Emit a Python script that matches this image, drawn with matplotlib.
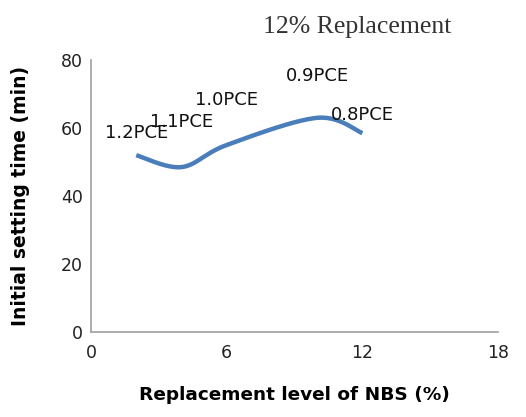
import numpy as np
import matplotlib
matplotlib.use("Agg")
import matplotlib.pyplot as plt

# values
nbs_level = [2, 4, 6, 10, 12]
setting_time = [52, 48.5, 55, 63, 58.5]
point_labels = ['1.2PCE', '1.1PCE', '1.0PCE', '0.9PCE', '0.8PCE']
label_offset = [6.5, 13.3, 13.2, 12.3, 5.3]


def smooth_line(x, y, n=40):
    """Excel-style smoothed line (Catmull-Rom through the points)."""
    x = np.asarray(x, float)
    y = np.asarray(y, float)
    xs, ys = [], []
    for i in range(len(x) - 1):
        p0 = (x[max(i - 1, 0)], y[max(i - 1, 0)])
        p1 = (x[i], y[i])
        p2 = (x[i + 1], y[i + 1])
        p3 = (x[min(i + 2, len(x) - 1)], y[min(i + 2, len(x) - 1)])
        c1 = (p1[0] + (p2[0] - p0[0]) / 6, p1[1] + (p2[1] - p0[1]) / 6)
        c2 = (p2[0] - (p3[0] - p1[0]) / 6, p2[1] - (p3[1] - p1[1]) / 6)
        t = np.linspace(0, 1, n)
        for k in range(2):
            pts = [p1[k], c1[k], c2[k], p2[k]]
            b = ((1 - t) ** 3 * pts[0] + 3 * (1 - t) ** 2 * t * pts[1]
                 + 3 * (1 - t) * t ** 2 * pts[2] + t ** 3 * pts[3])
            (xs if k == 0 else ys).extend(b)
    return xs, ys


fig = plt.figure(figsize=(5.26, 4.17), dpi=100)
ax = fig.add_axes([0.173, 0.204, 0.774, 0.652])

sx, sy = smooth_line(nbs_level, setting_time)
ax.plot(sx, sy, color='#4a7ebb', linewidth=3.2, solid_capstyle='butt')

for xv, yv, lab, off in zip(nbs_level, setting_time, point_labels, label_offset):
    ax.text(xv, yv + off, lab, ha='center', va='center', fontsize=13, color='#111111')

ax.set_xlim(0, 18)
ax.set_ylim(0, 80)
ax.set_xticks([0, 6, 12, 18])
ax.set_yticks([0, 20, 40, 60, 80])
ax.tick_params(length=0, labelsize=12.5, colors='#222222')
ax.tick_params(axis='x', pad=9)
ax.tick_params(axis='y', pad=6)
for s in ['top', 'right']:
    ax.spines[s].set_visible(False)
for s in ['left', 'bottom']:
    ax.spines[s].set_color('#a0a0a0')
    ax.spines[s].set_linewidth(1.2)

ax.set_xlabel('Replacement level of NBS (%)', fontsize=13.3, fontweight='bold', labelpad=17)
ax.set_ylabel('Initial setting time (min)', fontsize=13.5, fontweight='bold', labelpad=22)

fig.text(0.68, 0.935, '12% Replacement', family='Liberation Serif', fontsize=18.5,
         color='#333333', ha='center', va='center')

fig.savefig('out.png', dpi=100)
